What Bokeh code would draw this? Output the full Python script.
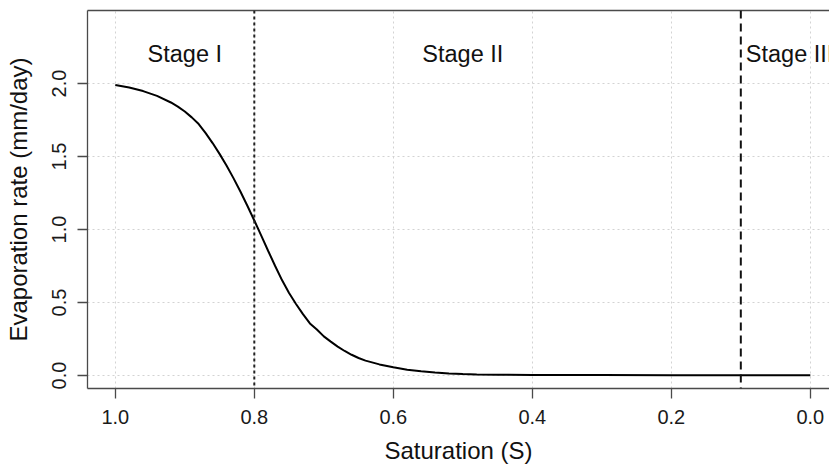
from bokeh.plotting import figure
from bokeh.models import Range1d, LinearAxis, Span, PrintfTickFormatter, FixedTicker
from bokeh.core.properties import value
from bokeh.embed import file_html
from bokeh.resources import INLINE

# Evaporation curve E(S)
saturation = [1.00, 0.98, 0.96, 0.94, 0.92, 0.91, 0.90, 0.89, 0.88, 0.87, 0.86,
              0.85, 0.84, 0.83, 0.82, 0.81, 0.80, 0.79, 0.78, 0.77, 0.76, 0.75,
              0.74, 0.73, 0.72, 0.71, 0.70, 0.69, 0.68, 0.67, 0.66, 0.65, 0.64,
              0.62, 0.60, 0.58, 0.56, 0.54, 0.52, 0.50, 0.48, 0.45, 0.40, 0.35,
              0.30, 0.20, 0.10, 0.00]
evaporation = [1.990, 1.972, 1.948, 1.915, 1.870, 1.842, 1.808, 1.768, 1.722, 1.660, 1.592,
               1.518, 1.438, 1.352, 1.260, 1.163, 1.062, 0.958, 0.853, 0.750, 0.652, 0.565,
               0.490, 0.420, 0.357, 0.315, 0.268, 0.232, 0.198, 0.168, 0.142, 0.120, 0.102,
               0.076, 0.056, 0.040, 0.029, 0.021, 0.014, 0.010, 0.007, 0.005, 0.004, 0.003,
               0.003, 0.002, 0.002, 0.002]

# Stage boundaries and labels
stage_bounds = [0.8, 0.1]
stage_x = [0.9, 0.5, 0.1]
stage_y = [2.2, 2.2, 2.2]
stage_labels = ["Stage I", "Stage II", "Stage III"]
stage_align = ["center", "center", "left"]
stage_xoff = [0, 0, 5]

x_ticks = [1.0, 0.8, 0.6, 0.4, 0.2, 0.0]
y_ticks = [0.0, 0.5, 1.0, 1.5, 2.0]

FONT = "Liberation Sans"
BOX = "#4a4a4a"

p = figure(width=829, height=467, output_backend="svg", toolbar_location=None,
           x_range=Range1d(1.04, -0.0276), y_range=Range1d(-0.089, 2.5),
           min_border_left=87, min_border_right=0, min_border_top=10,
           min_border_bottom=79,
           x_axis_label="Saturation (S)", y_axis_label="Evaporation rate (mm/day)")
p.outline_line_color = None
p.background_fill_color = "white"
p.border_fill_color = "white"

p.xaxis.ticker = FixedTicker(ticks=x_ticks)
p.yaxis.ticker = FixedTicker(ticks=y_ticks)
p.xaxis.formatter = PrintfTickFormatter(format="%.1f")
p.yaxis.formatter = PrintfTickFormatter(format="%.1f")

for ax in (p.xaxis[0], p.yaxis[0]):
    ax.axis_line_color = BOX
    ax.axis_line_width = 1.3
    ax.major_tick_line_color = BOX
    ax.major_tick_line_width = 1.3
    ax.major_tick_in = 0
    ax.major_tick_out = 10
    ax.minor_tick_line_color = None
    ax.major_label_text_font = FONT
    ax.major_label_text_font_size = "20px"
    ax.major_label_text_color = "#1a1a1a"
    ax.axis_label_text_font = FONT
    ax.axis_label_text_font_size = "24px"
    ax.axis_label_text_font_style = "normal"
    ax.axis_label_text_color = "#111111"

p.xaxis.major_label_standoff = 11
p.xaxis.axis_label_standoff = 10
p.yaxis.major_label_orientation = "vertical"
p.yaxis.major_label_standoff = 11
p.yaxis.axis_label_standoff = 18

# top edge of the plot box
top = LinearAxis(ticker=FixedTicker(ticks=[]), axis_line_color=BOX, axis_line_width=1.3,
                 major_tick_line_color=None, minor_tick_line_color=None,
                 major_label_text_font_size="0px")
p.add_layout(top, "above")

for g in (p.xgrid[0], p.ygrid[0]):
    g.grid_line_color = "#d3d3d3"
    g.grid_line_dash = "2 3"
    g.grid_line_width = 1

p.line(saturation, evaporation, line_color="black", line_width=2)

p.add_layout(Span(location=stage_bounds[0], dimension="height", line_color="#222222",
                  line_width=2, line_dash="3 3"))
p.add_layout(Span(location=stage_bounds[1], dimension="height", line_color="#111111",
                  line_width=2, line_dash="8 5"))

p.text(x=stage_x, y=stage_y, text=stage_labels, text_align=stage_align,
       x_offset=stage_xoff, text_baseline="middle", text_font=value(FONT),
       text_font_size="23.5px", text_color="#111111")

open("out.html", "w").write(file_html(p, INLINE))
